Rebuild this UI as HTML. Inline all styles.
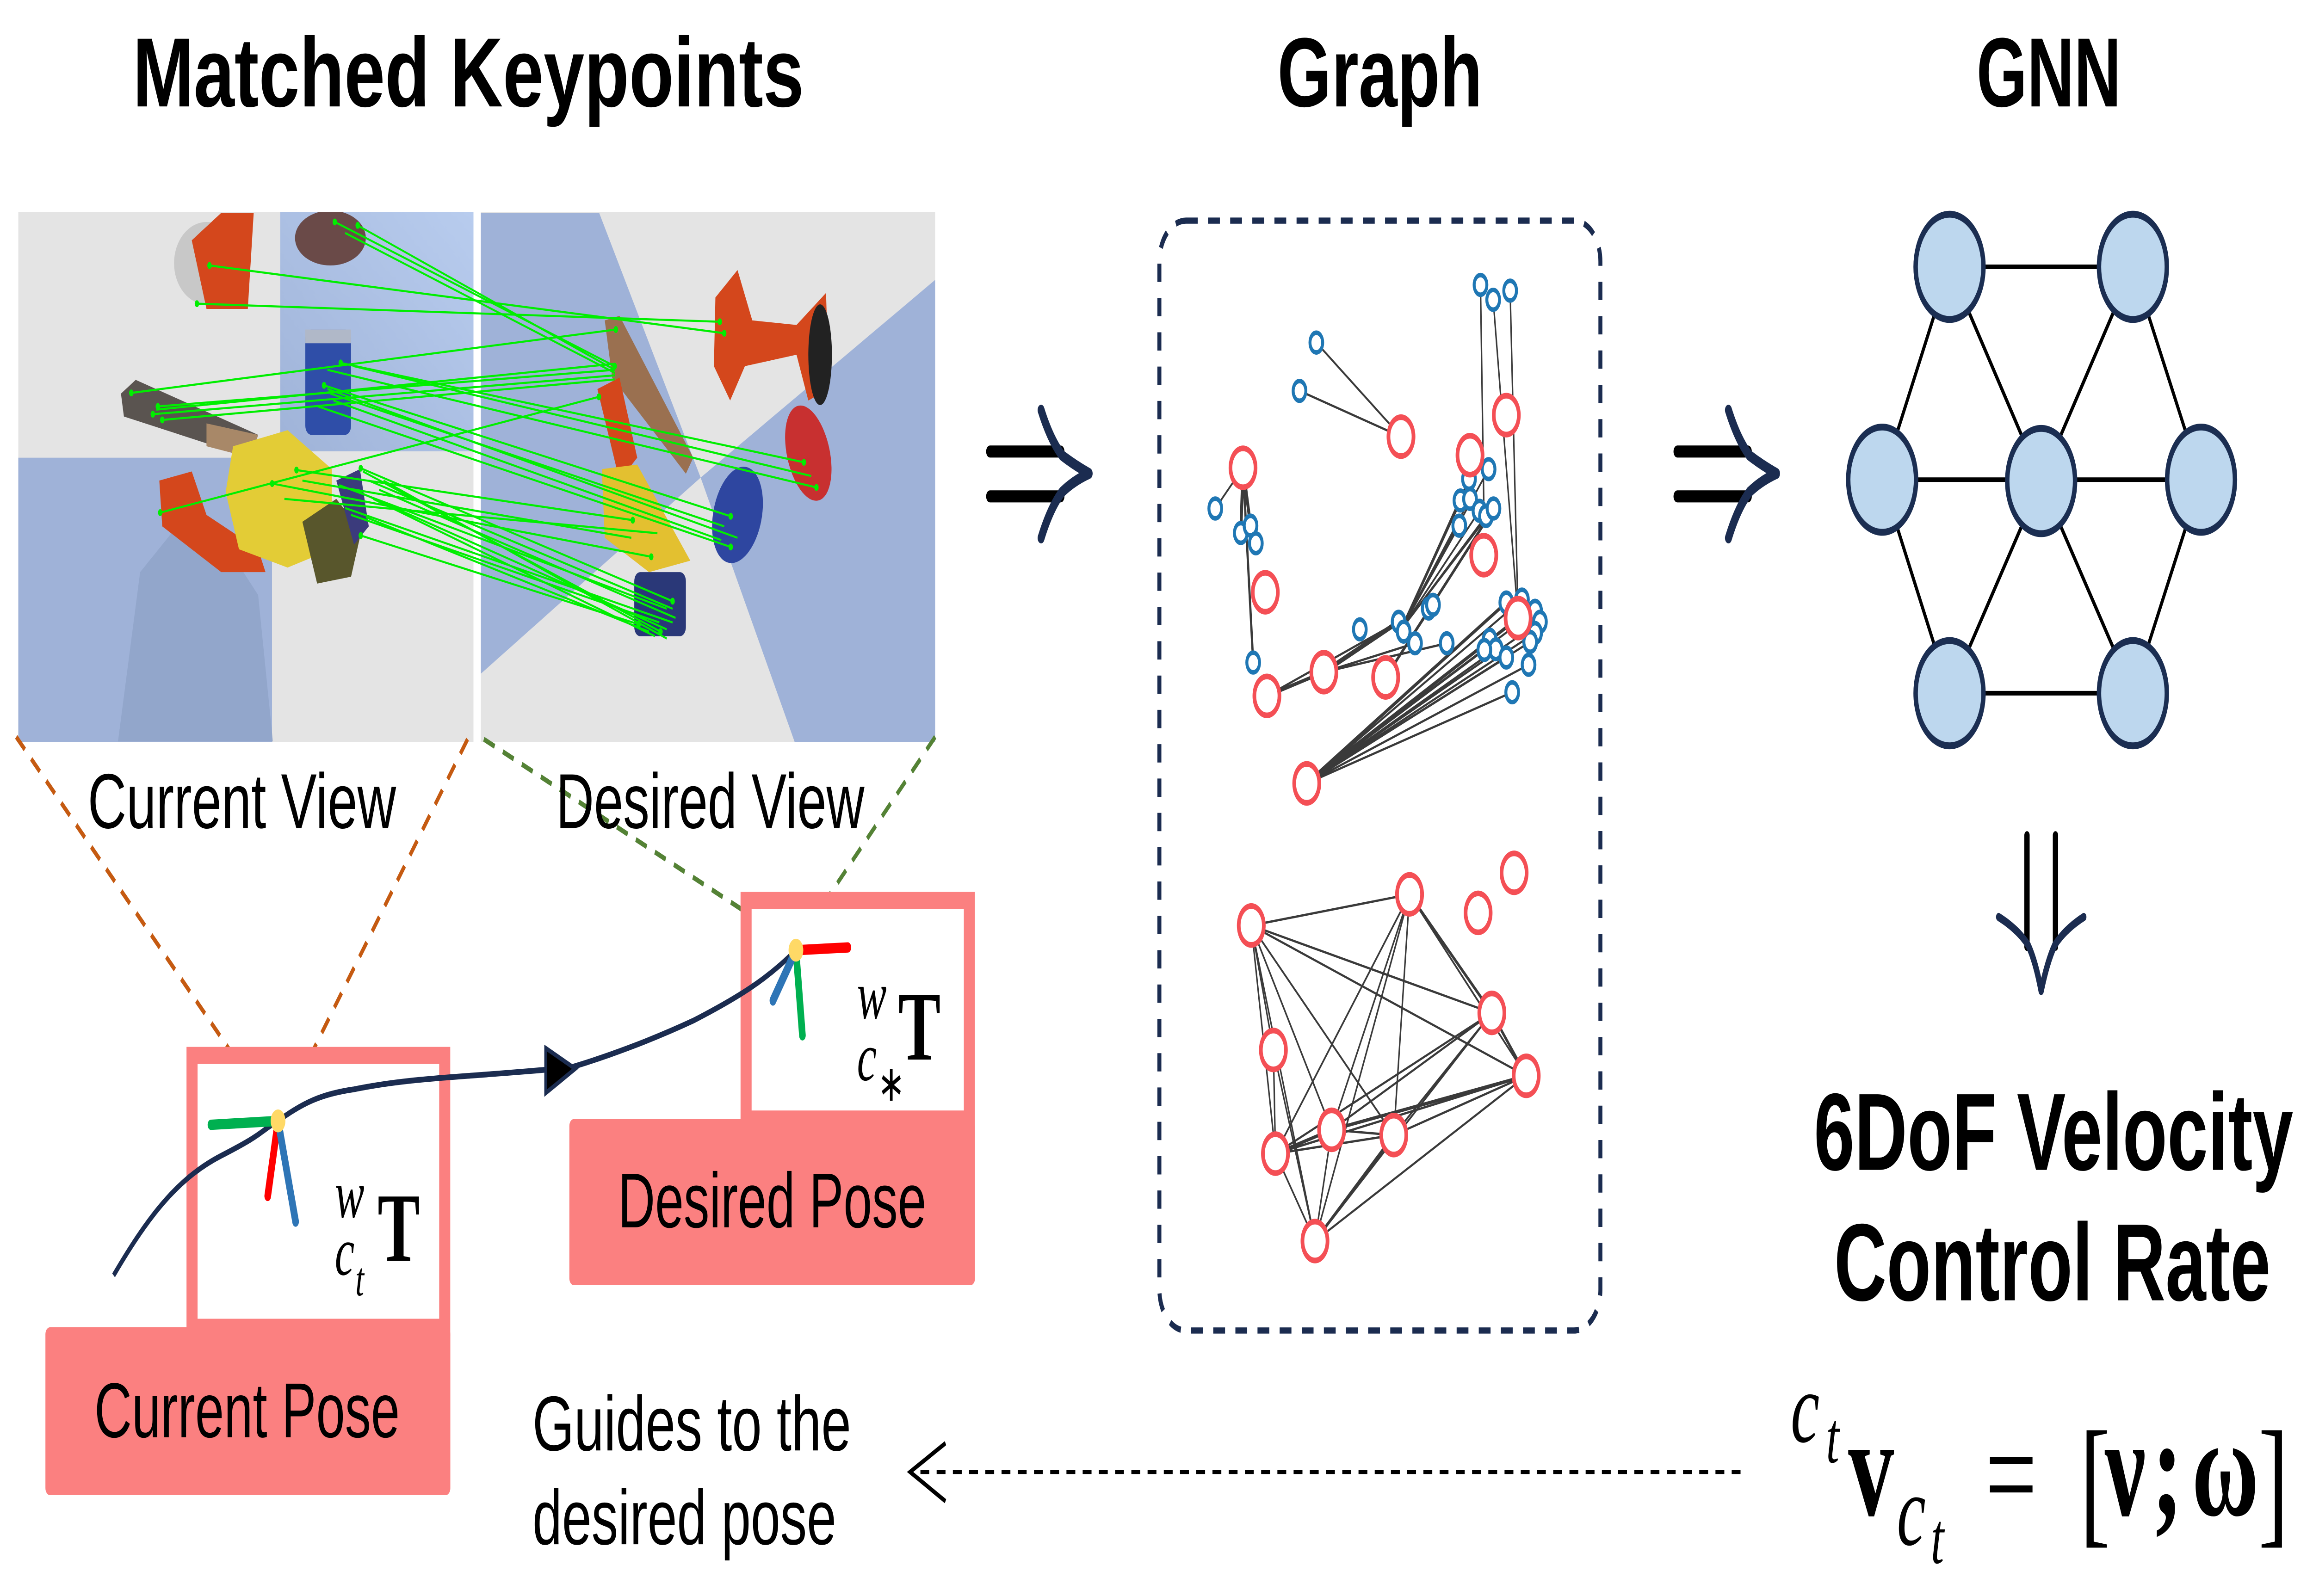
<!DOCTYPE html>
<html><head><meta charset="utf-8"><style>html,body{margin:0;padding:0;background:#fff;width:100%;height:100%;overflow:hidden}svg{display:block;width:100vw;height:100vh}</style></head>
<body>
<svg xmlns="http://www.w3.org/2000/svg" viewBox="0 0 1568.1 697.4" preserveAspectRatio="none">
<rect width="1568.1" height="697.4" fill="#fff"/>
<g font-family="Liberation Sans, sans-serif" font-weight="bold" fill="#000" font-size="43">
<text x="90" y="46.5" textLength="455" lengthAdjust="spacingAndGlyphs">Matched Keypoints</text>
<text x="866" y="46.5" textLength="139" lengthAdjust="spacingAndGlyphs">Graph</text>
<text x="1340" y="46.5" textLength="98" lengthAdjust="spacingAndGlyphs">GNN</text>
</g>
<defs><clipPath id="cl"><rect x="12.4" y="92.6" width="308.6" height="231.6"/></clipPath>
<clipPath id="cr"><rect x="326" y="92.6" width="308" height="231.6"/></clipPath>
<linearGradient id="lg" x1="0" y1="1" x2="1" y2="0"><stop offset="0" stop-color="#9fb3d8"/><stop offset="1" stop-color="#b8ccee"/></linearGradient></defs>
<g clip-path="url(#cl)">
<rect x="12.4" y="92.6" width="308.6" height="231.6" fill="#e4e4e4"/>
<rect x="190" y="92.6" width="131" height="104.6" fill="url(#lg)"/>
<rect x="12.4" y="200" width="172" height="124.2" fill="#9fb2d8"/>
<path d="M80 324 L95 250 L120 230 L150 235 L175 260 L185 324Z" fill="#8fa3c8" opacity="0.8"/>
<ellipse cx="140" cy="115" rx="22" ry="18" fill="#c8c8c8"/>
<path d="M130 105 L150 93 L172 93 L168 135 L140 135Z" fill="#d4471c"/>
<ellipse cx="224" cy="104" rx="24" ry="12" fill="#6a4a48"/>
<rect x="207" y="144" width="31" height="46" rx="4" fill="#2f4ea8"/>
<rect x="207" y="144" width="31" height="6" fill="#b0b8c8"/>
<path d="M82 172 L92 166 L175 190 L170 200 L84 182Z" fill="#5a5450"/>
<path d="M140 185 L175 190 L170 200 L140 195Z" fill="#a88868"/>
<path d="M108 210 L130 206 L140 225 L175 240 L180 250 L150 250 L110 230Z" fill="#d4471c"/>
<path d="M158 195 L195 188 L225 205 L225 240 L195 248 L162 240 L153 215Z" fill="#e3cc36"/>
<path d="M205 228 L228 218 L245 232 L238 252 L215 255Z" fill="#58562c"/>
<path d="M228 210 L244 205 L250 230 L240 238Z" fill="#3b3b7c"/>
</g>
<g clip-path="url(#cr)">
<rect x="326" y="92.6" width="308" height="231.6" fill="#e4e4e4"/>
<path d="M326 93 L406.2 93 L475 208.7 L326 294.4Z" fill="#9fb2d8"/>
<path d="M634 122.3 L475 208.7 L538.9 324.5 L634 324.5Z" fill="#9fb2d8"/>
<path d="M485 130 L500 118 L510 140 L540 142 L560 128 L562 170 L548 175 L540 155 L505 160 L495 175 L484 160Z" fill="#d4471c"/>
<ellipse cx="556" cy="155" rx="8" ry="22" fill="#222"/>
<ellipse cx="548" cy="198" rx="14" ry="22" transform="rotate(-25 548 198)" fill="#c83030"/>
<path d="M410 140 L420 138 L470 200 L465 207 L415 165Z" fill="#9a7050"/>
<path d="M405 170 L420 165 L432 200 L420 210 Z" fill="#d4471c"/>
<path d="M408 205 L432 203 L468 245 L440 250 L410 235Z" fill="#e3c030"/>
<ellipse cx="500" cy="225" rx="16" ry="22" transform="rotate(25 500 225)" fill="#2e46a0"/>
<rect x="430" y="250" width="35" height="28" rx="4" fill="#2a3878"/>
</g>
<g stroke="#00ee00" stroke-width="0.9" fill="none">
<line x1="227" y1="97" x2="416.7" y2="160"/><line x1="242.5" y1="98.5" x2="416.7" y2="161.6"/><line x1="234" y1="101.8" x2="417" y2="163"/>
<line x1="142" y1="116" x2="491" y2="145.6"/><line x1="133.5" y1="132.7" x2="488" y2="140.6"/>
<line x1="89" y1="171.7" x2="417.5" y2="144"/>
<line x1="231" y1="158.6" x2="545" y2="202"/><line x1="222" y1="161.6" x2="553.5" y2="213"/><line x1="240" y1="160" x2="550" y2="208"/>
<line x1="107" y1="177.6" x2="416.7" y2="161.6"/><line x1="103.6" y1="181" x2="417" y2="164"/><line x1="110" y1="183.5" x2="416.7" y2="165.8"/><line x1="106" y1="179" x2="416" y2="159"/>
<line x1="219.7" y1="168.4" x2="495.4" y2="225.6"/><line x1="224" y1="172" x2="491" y2="230"/><line x1="215.6" y1="177.6" x2="495.4" y2="239"/><line x1="222" y1="170" x2="500" y2="235"/><line x1="226" y1="175" x2="489" y2="236"/>
<line x1="108.6" y1="224" x2="406" y2="173.4"/>
<line x1="201" y1="205.4" x2="429" y2="227.3"/><line x1="184.5" y1="211.3" x2="441.5" y2="243.3"/><line x1="192.8" y1="218" x2="445.7" y2="233"/><line x1="205" y1="210" x2="428" y2="235"/>
<line x1="244.6" y1="204.6" x2="456" y2="262.7"/><line x1="246" y1="206" x2="447.8" y2="276"/><line x1="250" y1="210" x2="456" y2="266"/><line x1="240" y1="214" x2="452" y2="275"/><line x1="253" y1="218" x2="444" y2="278"/><line x1="234" y1="222" x2="456" y2="272"/><line x1="248" y1="226" x2="440" y2="276"/><line x1="257" y1="214" x2="458" y2="270"/><line x1="230" y1="212" x2="452" y2="266"/><line x1="238" y1="225" x2="447" y2="272"/><line x1="260" y1="210" x2="452" y2="279"/><line x1="244.6" y1="234" x2="433" y2="272.8"/>
</g>
<g fill="#00ee00">
<circle cx="227" cy="97" r="1.5"/><circle cx="242.5" cy="98.5" r="1.5"/><circle cx="142" cy="116" r="1.5"/><circle cx="133.5" cy="132.7" r="1.5"/><circle cx="89" cy="171.7" r="1.5"/><circle cx="231" cy="158.6" r="1.5"/><circle cx="107" cy="177.6" r="1.5"/><circle cx="103.6" cy="181" r="1.5"/><circle cx="110" cy="183.5" r="1.5"/><circle cx="219.7" cy="168.4" r="1.5"/><circle cx="108.6" cy="224" r="1.5"/><circle cx="201" cy="205.4" r="1.5"/><circle cx="184.5" cy="211.3" r="1.5"/><circle cx="244.6" cy="234" r="1.5"/><circle cx="244.6" cy="204.6" r="1.5"/>
<circle cx="416.7" cy="160" r="1.5"/><circle cx="491" cy="145.6" r="1.5"/><circle cx="488" cy="140.6" r="1.5"/><circle cx="417.5" cy="144" r="1.5"/><circle cx="545" cy="202" r="1.5"/><circle cx="553.5" cy="213" r="1.5"/><circle cx="495.4" cy="225.6" r="1.5"/><circle cx="495.4" cy="239" r="1.5"/><circle cx="406" cy="173.4" r="1.5"/><circle cx="429" cy="227.3" r="1.5"/><circle cx="441.5" cy="243.3" r="1.5"/><circle cx="456" cy="262.7" r="1.5"/><circle cx="447.8" cy="276" r="1.5"/><circle cx="433" cy="272.8" r="1.5"/>
</g>
<g stroke-width="2.2" stroke-dasharray="8,6" fill="none">
<line x1="11" y1="322" x2="188.5" y2="489.8" stroke="#c55a11"/>
<line x1="317" y1="323" x2="188.5" y2="489.8" stroke="#c55a11"/>
<line x1="328" y1="323" x2="539.6" y2="413" stroke="#548235"/>
<line x1="634" y1="322" x2="539.6" y2="413" stroke="#548235"/>
</g>
<g font-family="Liberation Sans, sans-serif" font-size="34" fill="#000">
<text x="59.5" y="361.8" textLength="209" lengthAdjust="spacingAndGlyphs">Current View</text>
<text x="377" y="361.8" textLength="209" lengthAdjust="spacingAndGlyphs">Desired View</text>
</g>
<rect x="130.2" y="461.2" width="171.3" height="118.8" fill="#fff" stroke="#fb8080" stroke-width="7.5"/>
<rect x="30.8" y="580" width="274.5" height="73.3" rx="3" fill="#fb8080"/>
<rect x="505.8" y="393.5" width="151.4" height="95.5" fill="#fff" stroke="#fb8080" stroke-width="7.5"/>
<rect x="386" y="489" width="275" height="72.6" rx="3" fill="#fb8080"/>
<g font-family="Liberation Sans, sans-serif" font-size="34" fill="#000">
<text x="64" y="628" textLength="207" lengthAdjust="spacingAndGlyphs">Current Pose</text>
<text x="419" y="536.3" textLength="209" lengthAdjust="spacingAndGlyphs">Desired Pose</text>
<text x="361" y="633.8" textLength="216" lengthAdjust="spacingAndGlyphs">Guides to the</text>
<text x="361" y="674.8" textLength="206" lengthAdjust="spacingAndGlyphs">desired pose</text>
</g>
<path d="M77 557.3 C100 532 120 515 150 505 S 175 495 188.5 489.8 C205 482 218 478 240 476 C270 472 300 471 330 469.5 C350 468.5 372 467.5 387.6 466.3 C410 462 440 455 470 446 C500 436 520 428 539.6 415.2" fill="none" stroke="#1b2c50" stroke-width="2.5"/>
<path d="M370 458 L390 467 L370 477.6Z" fill="#000" stroke="#1b2c50" stroke-width="2"/>
<g stroke-width="4.5" stroke-linecap="round">
<line x1="188.5" y1="489.8" x2="143" y2="491.5" stroke="#00b050"/>
<line x1="188.5" y1="489.8" x2="181.5" y2="522.6" stroke="#ff0000"/>
<line x1="188.5" y1="489.8" x2="200.4" y2="533.8" stroke="#2e75b6"/>
<line x1="539.6" y1="415.2" x2="574.8" y2="414" stroke="#ff0000"/>
<line x1="539.6" y1="415.2" x2="544" y2="452.4" stroke="#00b050"/>
<line x1="539.6" y1="415.2" x2="524" y2="437.2" stroke="#2e75b6"/>
</g>
<circle cx="188.5" cy="489.8" r="5" fill="#ffd966"/>
<circle cx="539.6" cy="415.2" r="5" fill="#ffd966"/>
<g font-family="Liberation Serif, serif" fill="#000">
<text x="227" y="532" font-size="30" font-style="italic">w</text>
<text x="227" y="557" font-size="30" font-style="italic">c</text>
<text x="241" y="566" font-size="21" font-style="italic">t</text>
<text x="256" y="551" font-size="43" font-weight="bold">T</text>
<text x="581" y="445" font-size="30" font-style="italic">w</text>
<text x="581" y="472" font-size="30" font-style="italic">c</text>
<text x="595" y="481" font-size="22">∗</text>
<text x="609" y="463" font-size="43" font-weight="bold">T</text>
</g>
<g id="arr">
<line x1="671.2" y1="197.3" x2="719" y2="197.3" stroke="#000" stroke-width="5.3" stroke-linecap="round"/>
<line x1="671.2" y1="216.9" x2="719" y2="216.9" stroke="#000" stroke-width="5.3" stroke-linecap="round"/>
<path d="M705.8 179.2 Q712 192 720 199 Q728 203 738.4 206.9 Q728 210 720 215 Q712 222 705.8 235.1" fill="none" stroke="#1b2c50" stroke-width="4.7" stroke-linecap="round" stroke-linejoin="round"/>
</g>
<use href="#arr" transform="translate(466 0)"/>
<line x1="1374.2" y1="365" x2="1374.2" y2="413.7" stroke="#000" stroke-width="3.6" stroke-linecap="round"/>
<line x1="1393.5" y1="365" x2="1393.5" y2="413.7" stroke="#000" stroke-width="3.6" stroke-linecap="round"/>
<path d="M1355 400.7 Q1368 406 1375 413 Q1380 420 1383.8 433 Q1388 420 1393 413 Q1400 406 1412.7 400.7" fill="none" stroke="#1b2c50" stroke-width="3.6" stroke-linecap="round" stroke-linejoin="round"/>
<rect x="786" y="96.4" width="299" height="485" rx="18" fill="none" stroke="#1b2c50" stroke-width="2.7" stroke-dasharray="8,7"/>
<g stroke="#3a3a3a" stroke-width="1" fill="none">
<line x1="892.4" y1="149.7" x2="949.8" y2="190.8"/><line x1="881" y1="170.8" x2="949.8" y2="190.8"/>
<line x1="842.7" y1="204.4" x2="823.9" y2="222.2"/><line x1="842.7" y1="204.4" x2="841.2" y2="232.9" stroke-width="2"/><line x1="842.7" y1="204.4" x2="847.8" y2="229.7" stroke-width="2"/><line x1="842.7" y1="204.4" x2="849.6" y2="289.5" stroke-width="1.5"/>
<line x1="858.9" y1="304.1" x2="897.5" y2="293.7" stroke-width="1.6"/><line x1="858.9" y1="304.1" x2="948.2" y2="271.7"/><line x1="897.5" y1="293.7" x2="948.2" y2="271.7" stroke-width="2.2"/><line x1="897.5" y1="293.7" x2="980.8" y2="281.1"/><line x1="897.5" y1="293.7" x2="959.3" y2="281.1"/>
<line x1="950" y1="275" x2="990.1" y2="218.7" stroke-width="1.6"/><line x1="950" y1="275" x2="996.6" y2="218"/><line x1="950" y1="275" x2="1003" y2="223.2"/><line x1="950" y1="275" x2="1007.4" y2="225.5"/><line x1="950" y1="275" x2="1012.5" y2="222.2"/><line x1="950" y1="275" x2="989.3" y2="229.7"/><line x1="950" y1="275" x2="995.9" y2="209.3"/><line x1="950" y1="275" x2="1009.2" y2="205"/><line x1="939.4" y1="296" x2="1005" y2="230" stroke-width="1.5"/><line x1="939.4" y1="296" x2="971.5" y2="264.3"/>
<line x1="885.9" y1="342.3" x2="1021.2" y2="263.3" stroke-width="1.6"/><line x1="885.9" y1="342.3" x2="1031.8" y2="262"/><line x1="885.9" y1="342.3" x2="1040.7" y2="266.9"/><line x1="885.9" y1="342.3" x2="1044" y2="271.7"/><line x1="885.9" y1="342.3" x2="1040.7" y2="276.6"/><line x1="885.9" y1="342.3" x2="1037.4" y2="280.5"/><line x1="885.9" y1="342.3" x2="1009.9" y2="279.5"/><line x1="885.9" y1="342.3" x2="1014.1" y2="283.7"/><line x1="885.9" y1="342.3" x2="1021.2" y2="287.3"/><line x1="885.9" y1="342.3" x2="1036.3" y2="290.5"/><line x1="885.9" y1="342.3" x2="1025.2" y2="302.5"/><line x1="885.9" y1="342.3" x2="1006.3" y2="284"/><line x1="885.9" y1="342.3" x2="1029.2" y2="270.1" stroke-width="1.6"/>
<line x1="1029.2" y1="270.1" x2="1012.3" y2="131"/><line x1="1029.2" y1="270.1" x2="1023.8" y2="127"/><line x1="1003.7" y1="124.5" x2="1006" y2="222"/>
</g>
<g stroke="#3a3a3a" stroke-width="1" fill="none">
<line x1="848.3" y1="404.4" x2="955.6" y2="390.8"/><line x1="848.3" y1="404.4" x2="1011.4" y2="442.6"/><line x1="848.3" y1="404.4" x2="1034.7" y2="470.1"/><line x1="848.3" y1="404.4" x2="863.3" y2="458.8"/><line x1="848.3" y1="404.4" x2="864.7" y2="504.1"/><line x1="848.3" y1="404.4" x2="891.5" y2="542.3"/><line x1="848.3" y1="404.4" x2="902.8" y2="493.7"/><line x1="848.3" y1="404.4" x2="944.9" y2="496"/>
<line x1="955.6" y1="390.8" x2="1011.4" y2="442.6" stroke-width="1.5"/><line x1="955.6" y1="390.8" x2="1034.7" y2="470.1"/><line x1="955.6" y1="390.8" x2="864.7" y2="504.1"/><line x1="955.6" y1="390.8" x2="902.8" y2="493.7"/><line x1="955.6" y1="390.8" x2="944.9" y2="496"/><line x1="955.6" y1="390.8" x2="891.5" y2="542.3"/>
<line x1="1011.4" y1="442.6" x2="1034.7" y2="470.1" stroke-width="1.5"/><line x1="1011.4" y1="442.6" x2="864.7" y2="504.1"/><line x1="1011.4" y1="442.6" x2="902.8" y2="493.7"/><line x1="1011.4" y1="442.6" x2="891.5" y2="542.3"/><line x1="1011.4" y1="442.6" x2="944.9" y2="496"/>
<line x1="1034.7" y1="470.1" x2="902.8" y2="493.7" stroke-width="1.5"/><line x1="1034.7" y1="470.1" x2="944.9" y2="496"/><line x1="1034.7" y1="470.1" x2="891.5" y2="542.3"/><line x1="1034.7" y1="470.1" x2="864.7" y2="504.1"/>
<line x1="863.3" y1="458.8" x2="864.7" y2="504.1"/><line x1="863.3" y1="458.8" x2="891.5" y2="542.3"/>
<line x1="864.7" y1="504.1" x2="902.8" y2="493.7" stroke-width="1.5"/><line x1="864.7" y1="504.1" x2="944.9" y2="496"/><line x1="902.8" y1="493.7" x2="944.9" y2="496"/><line x1="902.8" y1="493.7" x2="891.5" y2="542.3"/><line x1="944.9" y1="496" x2="891.5" y2="542.3" stroke-width="1.5"/><line x1="864.7" y1="504.1" x2="891.5" y2="542.3"/>
</g>
<g fill="#fff" stroke="#1f77b4" stroke-width="2">
<circle cx="1003.7" cy="124.5" r="4.3"/><circle cx="1012.3" cy="131" r="4.3"/><circle cx="1023.8" cy="127" r="4.3"/><circle cx="892.4" cy="149.7" r="4.3"/><circle cx="881" cy="170.8" r="4.3"/><circle cx="823.9" cy="222.2" r="4.3"/><circle cx="841.2" cy="232.9" r="4.3"/><circle cx="847.8" cy="229.7" r="4.3"/><circle cx="851.4" cy="237.4" r="4.3"/><circle cx="849.6" cy="289.5" r="4.3"/><circle cx="921.9" cy="275" r="4.3"/><circle cx="948.2" cy="271.7" r="4.3"/><circle cx="951.6" cy="276" r="4.3"/><circle cx="959.3" cy="281.1" r="4.3"/><circle cx="968.6" cy="265.9" r="4.3"/><circle cx="971.5" cy="264.3" r="4.3"/><circle cx="980.8" cy="281.1" r="4.3"/><circle cx="1009.2" cy="205" r="4.3"/><circle cx="995.9" cy="209.3" r="4.3"/><circle cx="990.1" cy="218.7" r="4.3"/><circle cx="996.6" cy="218" r="4.3"/><circle cx="1003" cy="223.2" r="4.3"/><circle cx="1007.4" cy="225.5" r="4.3"/><circle cx="1012.5" cy="222.2" r="4.3"/><circle cx="989.3" cy="229.7" r="4.3"/><circle cx="1021.2" cy="263.3" r="4.3"/><circle cx="1031.8" cy="262" r="4.3"/><circle cx="1040.7" cy="266.9" r="4.3"/><circle cx="1044" cy="271.7" r="4.3"/><circle cx="1040.7" cy="276.6" r="4.3"/><circle cx="1037.4" cy="280.5" r="4.3"/><circle cx="1009.9" cy="279.5" r="4.3"/><circle cx="1014.1" cy="283.7" r="4.3"/><circle cx="1021.2" cy="287.3" r="4.3"/><circle cx="1036.3" cy="290.5" r="4.3"/><circle cx="1025.2" cy="302.5" r="4.3"/><circle cx="1006.3" cy="284" r="4.3"/>
</g>
<g fill="#fff" stroke="#f44f55" stroke-width="2.5">
<circle cx="842.7" cy="204.4" r="8.5"/><circle cx="949.8" cy="190.8" r="8.5"/><circle cx="996.6" cy="198.9" r="8.5"/><circle cx="1021.2" cy="181.4" r="8.5"/><circle cx="857.8" cy="258.8" r="8.5"/><circle cx="1005.9" cy="242.6" r="8.5"/><circle cx="1029.2" cy="270.1" r="8.5"/><circle cx="897.5" cy="293.7" r="8.5"/><circle cx="939.4" cy="296" r="8.5"/><circle cx="858.9" cy="304.1" r="8.5"/><circle cx="885.9" cy="342.3" r="8.5"/>
<circle cx="848.3" cy="404.4" r="8.5"/><circle cx="955.6" cy="390.8" r="8.5"/><circle cx="1002.1" cy="398.9" r="8.5"/><circle cx="1026.5" cy="381.4" r="8.5"/><circle cx="1011.4" cy="442.6" r="8.5"/><circle cx="1034.7" cy="470.1" r="8.5"/><circle cx="863.3" cy="458.8" r="8.5"/><circle cx="902.8" cy="493.7" r="8.5"/><circle cx="944.9" cy="496" r="8.5"/><circle cx="864.7" cy="504.1" r="8.5"/><circle cx="891.5" cy="542.3" r="8.5"/>
</g>
<g stroke="#000" stroke-width="2">
<line x1="1321.7" y1="116.6" x2="1446" y2="116.6"/><line x1="1321.7" y1="116.6" x2="1276" y2="209.6"/><line x1="1321.7" y1="116.6" x2="1383.8" y2="210.2"/><line x1="1446" y1="116.6" x2="1383.8" y2="210.2"/><line x1="1446" y1="116.6" x2="1492.2" y2="209.6"/><line x1="1276" y1="209.6" x2="1492.2" y2="209.6"/><line x1="1276" y1="209.6" x2="1321.7" y2="302.9"/><line x1="1383.8" y1="210.2" x2="1321.7" y2="302.9"/><line x1="1383.8" y1="210.2" x2="1446" y2="302.9"/><line x1="1492.2" y1="209.6" x2="1446" y2="302.9"/><line x1="1321.7" y1="302.9" x2="1446" y2="302.9"/>
</g>
<g fill="#bdd7ee" stroke="#1b2e52" stroke-width="3">
<circle cx="1321.7" cy="116.6" r="23"/><circle cx="1446" cy="116.6" r="23"/><circle cx="1276" cy="209.6" r="23"/><circle cx="1383.8" cy="210.2" r="23"/><circle cx="1492.2" cy="209.6" r="23"/><circle cx="1321.7" cy="302.9" r="23"/><circle cx="1446" cy="302.9" r="23"/>
</g>
<g font-family="Liberation Sans, sans-serif" font-weight="bold" font-size="48" fill="#000">
<text x="1229.7" y="511.2" textLength="325" lengthAdjust="spacingAndGlyphs">6DoF Velocity</text>
<text x="1243.4" y="568.2" textLength="296" lengthAdjust="spacingAndGlyphs">Control Rate</text>
</g>
<g font-family="Liberation Serif, serif" fill="#000">
<text x="1214" y="630" font-size="44" font-style="italic">c</text>
<text x="1238" y="639" font-size="32" font-style="italic">t</text>
<text x="1253" y="662" font-size="62" font-weight="bold">v</text>
<text x="1286" y="675" font-size="44" font-style="italic">c</text>
<text x="1309" y="683" font-size="32" font-style="italic">t</text>
<text x="1346" y="665" font-size="62">=</text>
<text x="1410" y="668" font-size="62">[</text>
<text x="1427" y="662" font-size="62" font-weight="bold">ν</text>
<text x="1459" y="662" font-size="62" font-weight="bold">;</text>
<text x="1486" y="662" font-size="62" font-weight="bold">ω</text>
<text x="1531" y="668" font-size="62">]</text>
</g>
<line x1="1180" y1="643.2" x2="622" y2="643.2" stroke="#000" stroke-width="1.8" stroke-dasharray="6,5"/>
<path d="M641 630.6 L617 643.2 L641 656" fill="none" stroke="#000" stroke-width="2"/>
</svg>
</body></html>
